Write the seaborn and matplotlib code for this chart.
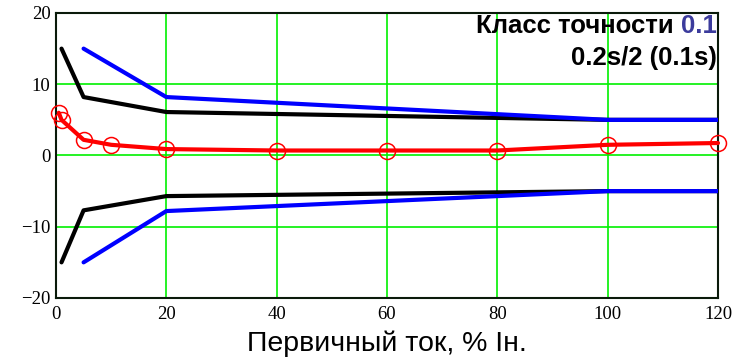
import matplotlib
matplotlib.use("Agg")
import matplotlib.pyplot as plt
import seaborn as sns
import pandas as pd

# Accuracy class limits and measured error, % vs primary current, % of rated
limit_black_x = [1, 5, 20, 100, 120]
limit_black_upper = [15, 8.2, 6.1, 5, 5]
limit_black_lower = [-15, -7.7, -5.7, -5, -5]

limit_blue_x = [5, 20, 100, 120]
limit_blue_upper = [15, 8.2, 5, 5]
limit_blue_lower = [-15, -7.8, -5, -5]

meas_x = [0.5, 1, 5, 10, 20, 40, 60, 80, 100, 120]
meas_y = [6.0, 5.0, 2.2, 1.5, 0.9, 0.7, 0.7, 0.7, 1.5, 1.75]

x_ticks = [0, 20, 40, 60, 80, 100, 120]
y_ticks = [-20, -10, 0, 10, 20]

sns.set_style("white")
plt.rcParams["font.family"] = ["Liberation Sans", "DejaVu Sans"]
plt.rcParams["text.color"] = "black"
plt.rcParams["axes.labelcolor"] = "black"
plt.rcParams["xtick.color"] = "black"
plt.rcParams["ytick.color"] = "black"

fig = plt.figure(figsize=(7.33, 3.57), dpi=100)
ax = fig.add_axes([0.0764, 0.1653, 0.9031, 0.7983])

black_df = pd.DataFrame({"x": limit_black_x + limit_black_x,
                         "y": limit_black_upper + limit_black_lower,
                         "side": ["up"] * len(limit_black_x) + ["down"] * len(limit_black_x)})
blue_df = pd.DataFrame({"x": limit_blue_x + limit_blue_x,
                        "y": limit_blue_upper + limit_blue_lower,
                        "side": ["up"] * len(limit_blue_x) + ["down"] * len(limit_blue_x)})
meas_df = pd.DataFrame({"x": meas_x, "y": meas_y})

sns.lineplot(data=black_df, x="x", y="y", units="side", estimator=None, sort=False,
             color="black", lw=3, ax=ax, zorder=3)
sns.lineplot(data=blue_df, x="x", y="y", units="side", estimator=None, sort=False,
             color="#0000ff", lw=3, ax=ax, zorder=4)
sns.lineplot(data=meas_df, x="x", y="y", estimator=None, sort=False,
             color="#ff0000", lw=3, ax=ax, zorder=5, clip_on=False,
             marker="o", markersize=11.5, markerfacecolor="none",
             markeredgecolor="#ff0000", markeredgewidth=1.1)

ax.set_xlim(0, 120)
ax.set_ylim(-20, 20)
ax.set_xticks(x_ticks)
ax.set_yticks(y_ticks)
ax.set_xticklabels([str(v) for v in x_ticks], family="Liberation Serif", fontsize=13.5)
ax.set_yticklabels([str(v).replace("-", "\u2212") for v in y_ticks],
                   family="Liberation Serif", fontsize=13.5)
ax.tick_params(axis="x", length=0, pad=6)
ax.tick_params(axis="y", length=0, pad=4)
ax.grid(True, color="#00f000", lw=1.2, zorder=0)
ax.set_axisbelow(True)
for s in ax.spines.values():
    s.set_color("#0a1a0a")
    s.set_linewidth(1.5)
    s.set_visible(True)

ax.set_xlabel("Первичный ток, % Iн.", fontsize=20.5, labelpad=5)
ax.set_ylabel("")

# Title block in the upper-right corner
t1 = ax.text(0.998, 0.995, "0.1", transform=ax.transAxes, ha="right", va="top",
             fontsize=18.5, fontweight="bold", color="#3b3b9c", zorder=10)
fig.canvas.draw()
bb = t1.get_window_extent()
inv = ax.transAxes.inverted()
x0 = inv.transform((bb.x0, bb.y0))[0]
ax.text(x0, 0.995, "Класс точности ", transform=ax.transAxes, ha="right", va="top",
        fontsize=18.5, fontweight="bold", color="black", zorder=10)
ax.text(0.998, 0.885, "0.2s/2 (0.1s)", transform=ax.transAxes, ha="right", va="top",
        fontsize=18.5, fontweight="bold", color="black", zorder=10)

fig.savefig("out.png", dpi=100)
